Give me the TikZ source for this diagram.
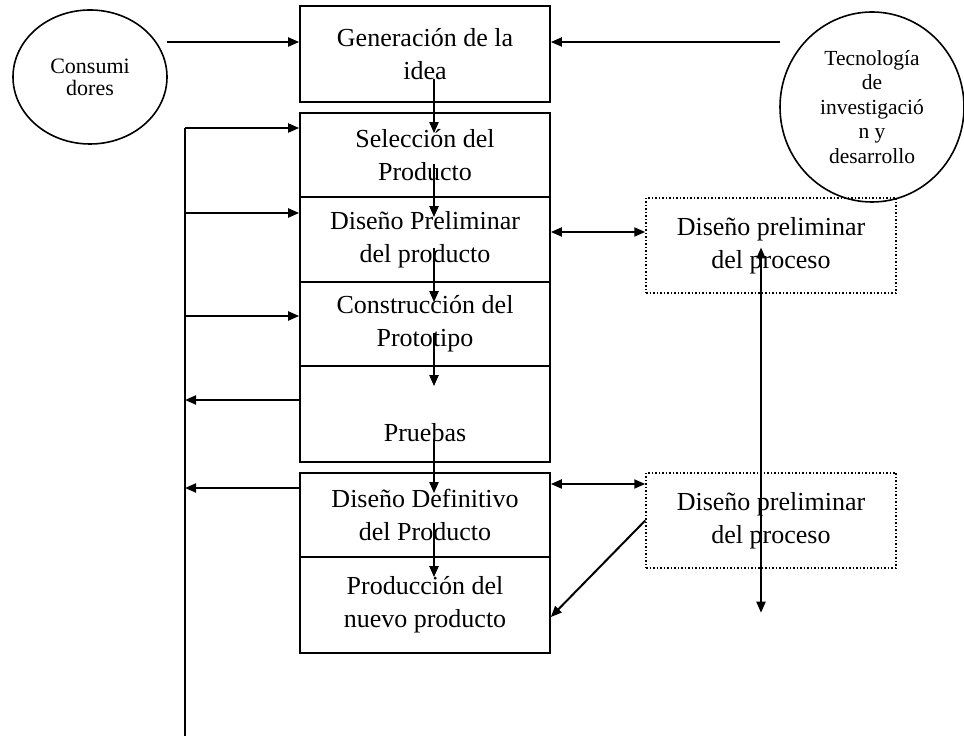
\documentclass[tikz,border=0pt]{standalone}
\usepackage{fontspec}
\setmainfont{Liberation Serif}
\usetikzlibrary{arrows.meta,calc,shapes.geometric}

\begin{document}
\begin{tikzpicture}[x=1pt,y=1pt,>={Triangle[length=11pt,width=9pt]},
  box/.style={draw,line width=1.7pt,minimum width=250pt,inner sep=0pt,align=center,font=\fontsize{26}{33}\selectfont},
  procbox/.style={draw,dotted,line width=1.5pt,minimum width=250pt,minimum height=95pt,inner sep=0pt,align=center,font=\fontsize{26}{33}\selectfont},
  source/.style={draw,ellipse,line width=1.6pt,inner sep=0pt,align=center},
  flow/.style={->,line width=2pt},
  both/.style={<->,line width=2pt}]
\useasboundingbox (0,0) rectangle (964,736);
% sources
\node[source,minimum width=154pt,minimum height=134pt,font=\fontsize{22}{22}\selectfont] (cons) at (90,659) {Consumi\\dores};
\node[source,minimum width=184pt,minimum height=190pt,font=\fontsize{21.5}{24.5}\selectfont] (tec) at (872,629) {Tecnología\\de\\investigació\\n y\\desarrollo};
% main column
\node[box,minimum height=96pt] (gen) at (425,682) {Generación de la\\idea};
\node[box,minimum height=84pt] (sel) at (425,581) {Selección del\\Producto};
\node[box,minimum height=85pt] (pre) at (425,496.5) {Diseño Preliminar\\del producto};
\node[box,minimum height=84pt] (con) at (425,412) {Construcción del\\Prototipo};
\node[box,minimum height=96pt] (pru) at (425,322) {\strut\\Pruebas};
\node[box,minimum height=84pt] (def) at (425,221) {Diseño Definitivo\\del Producto};
\node[box,minimum height=96pt] (prod) at (425,131) {Producción del\\nuevo producto};
% process boxes
\node[procbox] (proc1) at (771,490.5) {Diseño preliminar\\del proceso};
\node[procbox] (proc2) at (771,215.5) {Diseño preliminar\\del proceso};
% inputs to the idea
\draw[flow] ($(cons.east)+(-1,35)$) -- ($(gen.west)+(0,12)$);
\draw[flow] ($(tec.west)+(1,65)$) -- ($(gen.east)+(0,12)$);
% flow down the column
\foreach \a/\b/\u in {gen/sel/24,sel/pre/34,pre/con/35,con/pru/34,pru/def/24,def/prod/35}
  \draw[flow] ($(\a.south)+(9,\u)$) -- ($(\b.north)+(9,-21)$);
% feedback bus
\coordinate (bustop) at (185,608);
\coordinate (busend) at (185,0);
\draw[line width=2pt] (bustop) -- (busend);
\foreach \y/\n in {608/sel,523/pre,420/con} {
  \coordinate (bus\n) at (185,\y);
  \draw[flow] (bus\n) -- (bus\n -| \n.west);
}
\foreach \y/\n in {336/pru,248/def} {
  \coordinate (bus\n) at (185,\y);
  \draw[flow] (bus\n -| \n.west) -- (bus\n);
}
% links to the process
\draw[both] ($(pre.east)+(0,7.5)$) coordinate (lk1) -- (lk1 -| proc1.west);
\draw[both] ($(def.east)+(0,31)$) coordinate (lk2) -- (lk2 -| proc2.west);
\draw[flow] (proc2.west) -- ($(prod.east)+(0,-12)$);
\draw[both] ($(proc1.center)+(-10,-2)$) -- ($(proc2.south)+(-10,-44)$);
\end{tikzpicture}
\end{document}
